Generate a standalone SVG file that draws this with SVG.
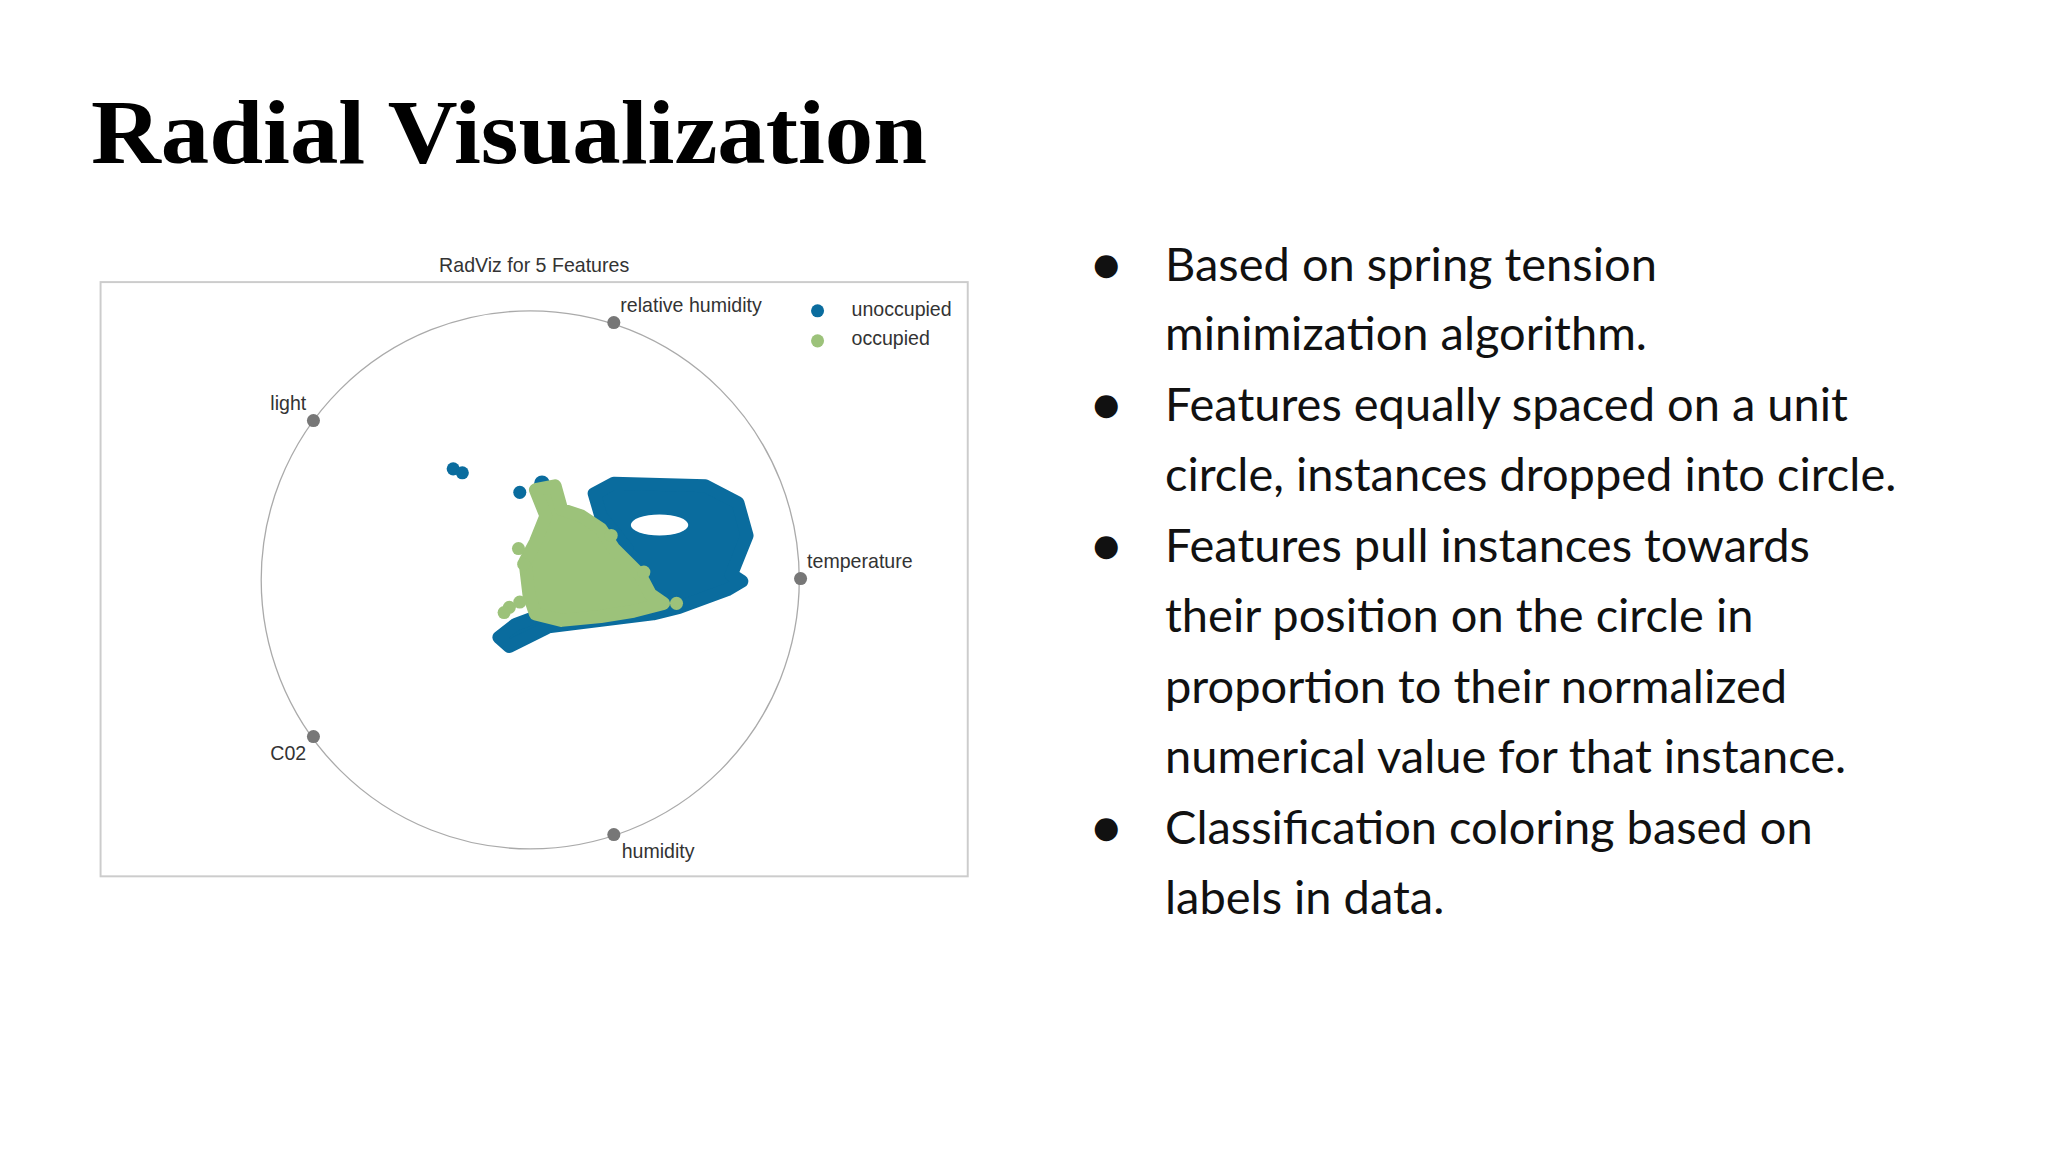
<svg xmlns="http://www.w3.org/2000/svg" width="2048" height="1152" viewBox="0 0 2048 1152">
<style>
.lbl{font-family:"Liberation Sans",Arial,sans-serif;font-size:15px;fill:#333}
.b{font-family:Lato,"Liberation Sans",sans-serif;font-size:47px;fill:#111}
.fp{fill:#777}
.bl{fill:#0a6c9e;stroke:#0a6c9e;stroke-width:10;stroke-linejoin:round}
.gr{fill:#9cc27a;stroke:#9cc27a;stroke-width:10;stroke-linejoin:round}
</style>
<rect width="2048" height="1152" fill="#fff"/>
<text x="91" y="163" font-family="'Liberation Serif',serif" font-weight="bold" font-size="92" textLength="836" lengthAdjust="spacingAndGlyphs" fill="#000">Radial Visualization</text>
<g id="plot" transform="scale(1.306)">
<text x="409" y="208" text-anchor="middle" class="lbl" font-size="16">RadViz for 5 Features</text>
<rect x="77" y="216" width="664" height="455" fill="#fff" stroke="#ccc" stroke-width="1.5"/>
<circle cx="406" cy="444" r="206" fill="none" stroke="#aaa" stroke-width="1"/>
<path class="bl" d="M455,378 L470,370 L540,372 L565,385 L572,410 L566,425 L560,440 L568,445 L558,451 L520,465 L500,470 L460,475 L420,480 L390,495 L382,488 L395,478 L430,465 L470,450 L480,420 L460,395 Z"/>
<ellipse cx="505" cy="402" rx="22" ry="8" fill="#fff"/>
<g fill="#0a6c9e"><circle cx="347" cy="359" r="5"/><circle cx="354" cy="362" r="5"/><circle cx="398" cy="377" r="5"/><circle cx="415" cy="370" r="6"/></g>
<path class="gr" d="M410,375 L425,372 L430,390 L445,395 L460,405 L470,420 L490,440 L498,455 L508,462 L485,468 L460,472 L430,475 L410,470 L405,455 L402,430 L410,415 L418,395 Z"/>
<g fill="#9cc27a"><circle cx="390" cy="465" r="5"/><circle cx="398" cy="461" r="5"/><circle cx="386" cy="469" r="5"/><circle cx="397" cy="420" r="5"/><circle cx="401" cy="432" r="5"/><circle cx="493" cy="438" r="5"/><circle cx="518" cy="462" r="5"/><circle cx="468" cy="410" r="5"/></g>
<g class="fp"><circle cx="470" cy="247" r="5"/><circle cx="240" cy="322" r="5"/><circle cx="613" cy="443" r="5"/><circle cx="240" cy="564" r="5"/><circle cx="470" cy="639" r="5"/></g>
<text x="475" y="239" class="lbl">relative humidity</text>
<text x="207" y="314" class="lbl">light</text>
<text x="618" y="435" class="lbl">temperature</text>
<text x="207" y="582" class="lbl">C02</text>
<text x="476" y="657" class="lbl">humidity</text>
<circle cx="626" cy="238" r="5" fill="#0a6c9e"/><text x="652" y="242" class="lbl">unoccupied</text>
<circle cx="626" cy="261" r="5" fill="#9cc27a"/><text x="652" y="264" class="lbl">occupied</text>
</g>
<g id="bullets">
<text x="1092" y="281" class="b">●</text><text x="1165" y="281" class="b">Based on spring tension</text>
<text x="1165" y="350" class="b">minimization algorithm.</text>
<text x="1092" y="421" class="b">●</text><text x="1165" y="421" class="b">Features equally spaced on a unit</text>
<text x="1165" y="491" class="b">circle, instances dropped into circle.</text>
<text x="1092" y="562" class="b">●</text><text x="1165" y="562" class="b">Features pull instances towards</text>
<text x="1165" y="632" class="b">their position on the circle in</text>
<text x="1165" y="703" class="b">proportion to their normalized</text>
<text x="1165" y="773" class="b">numerical value for that instance.</text>
<text x="1092" y="844" class="b">●</text><text x="1165" y="844" class="b">Classification coloring based on</text>
<text x="1165" y="914" class="b">labels in data.</text>
</g>
</svg>
